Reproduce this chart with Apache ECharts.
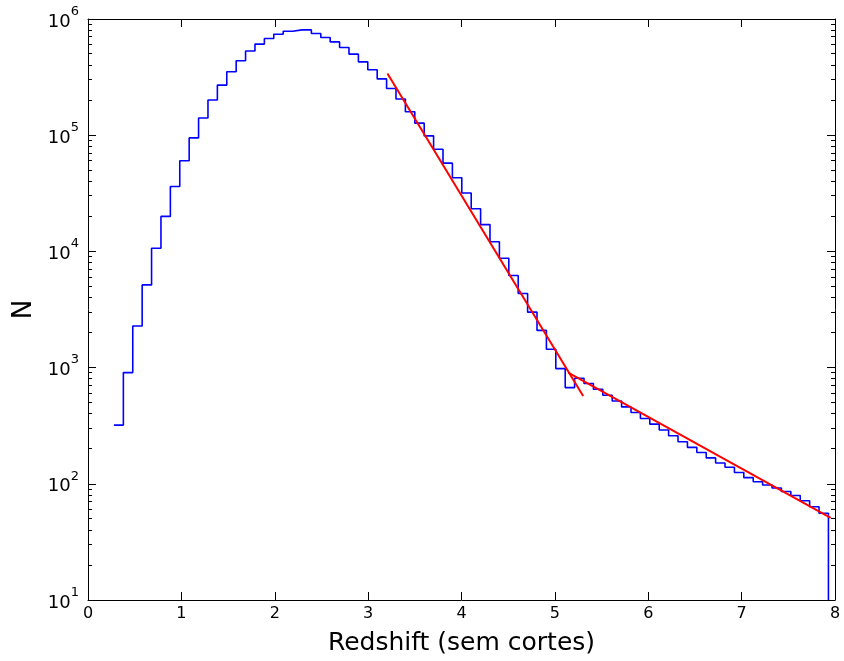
<!DOCTYPE html>
<html>
<head>
<meta charset="utf-8">
<title>Redshift (sem cortes)</title>
<script src="https://cdn.jsdelivr.net/npm/echarts@6/dist/echarts.min.js"></script>
<style>
  html, body { margin: 0; padding: 0; background: #ffffff; }
  #chart { width: 844px; height: 661px; }
</style>
</head>
<body>
<div id="chart"></div>
<script>
// Histogram binning (left edge of first bin, common bin width)
const binStart = 0.278;
const binWidth = 0.10068;

// Counts per bin, from z ~ 0.3 up to z ~ 7.9
const counts = [
  320, 906, 2280, 5150, 10640, 20000, 36200, 60200, 94800, 140800,
  201000, 270000, 352000, 437000, 530000, 608000, 680000, 740000, 785000, 806000,
  806000, 751000, 693000, 635000, 569000, 499000, 428000, 366000, 305000, 252000,
  205000, 159000, 127000, 98600, 75800, 57500, 43000, 31800, 23300, 17000,
  12100, 8730, 6200, 4340, 3000, 2090, 1440, 980, 673, 809,
  730, 652, 578, 516, 459, 411, 365, 326, 290, 259,
  230, 206, 186, 167, 151, 139, 125, 113, 104, 97.7,
  92, 85.9, 79.4, 71.5, 63.4, 55.8
];

// Exponential fits (straight lines in log space), given by their end points
const steepFit = [[3.207, 340000], [5.303, 570]];
const shallowFit = [[5.143, 906], [7.954, 50.8]];

// Axis ranges and ticks
const xMin = 0, xMax = 8, xStep = 1;
const yMin = 10, yMax = 1e6;
const yMinorTicks = [];
for (let d = 10; d < yMax; d *= 10) {
  for (let m = 2; m <= 9; m++) yMinorTicks.push(m * d);
}

// Step outline of the histogram
const histPath = [];
counts.forEach((c, k) => {
  const left = binStart + k * binWidth;
  histPath.push([left, c], [left + binWidth, c]);
});
histPath.push([binStart + counts.length * binWidth, yMin]);

const FONT = 'DejaVu Sans';
const frameLine = { show: true, onZero: false, lineStyle: { color: '#000', width: 1 } };

function xAxisDef(pos, withLabels) {
  return {
    type: 'value', position: pos, min: xMin, max: xMax, interval: xStep,
    axisLine: frameLine,
    axisTick: { show: true, inside: true, length: 8, lineStyle: { color: '#000', width: 1 } },
    axisLabel: withLabels
      ? { show: true, color: '#000', fontSize: 16, fontFamily: FONT, margin: 6 }
      : { show: false },
    splitLine: { show: false },
    name: withLabels ? 'Redshift (sem cortes)' : '',
    nameLocation: 'middle', nameGap: 31,
    nameTextStyle: { color: '#000', fontSize: 25, fontFamily: FONT }
  };
}

function yAxisDef(pos, withLabels) {
  const axis = {
    type: 'log', logBase: 10, position: pos, min: yMin, max: yMax,
    axisLine: frameLine,
    axisTick: { show: true, inside: true, length: 8, lineStyle: { color: '#000', width: 1 } },
    axisLabel: { show: false },
    splitLine: { show: false },
    minorTick: { show: false }
  };
  if (withLabels) {
    axis.axisLabel = {
      show: true, margin: 9, padding: [6, 0, 0, 0],
      formatter: v => '{b|10}{s|' + Math.round(Math.log10(v)) + '}',
      rich: {
        b: { fontSize: 18, fontFamily: FONT, color: '#000', lineHeight: 34 },
        s: { fontSize: 13, fontFamily: FONT, color: '#000', lineHeight: 13, verticalAlign: 'top' }
      }
    };
    axis.name = 'N';
    axis.nameLocation = 'middle';
    axis.nameGap = 50;
    axis.nameTextStyle = { color: '#000', fontSize: 26, fontFamily: FONT };
  }
  return axis;
}

// Short minor ticks (2..9 of every decade) on both vertical frame edges
function renderMinorTick(params, api) {
  const cs = params.coordSys;
  const y = Math.round(api.coord([xMin, api.value(1)])[1] - 0.5) + 0.5;
  const style = { stroke: '#000', lineWidth: 1 };
  return {
    type: 'group',
    children: [
      { type: 'line', shape: { x1: cs.x, y1: y, x2: cs.x + 4, y2: y }, style },
      { type: 'line', shape: { x1: cs.x + cs.width - 4, y1: y, x2: cs.x + cs.width, y2: y }, style }
    ]
  };
}

const chart = echarts.init(document.getElementById('chart'), null, { renderer: 'canvas' });
chart.setOption({
  animation: false,
  backgroundColor: '#ffffff',
  grid: { left: 88, right: 9, top: 19, bottom: 60, containLabel: false },
  xAxis: [xAxisDef('bottom', true), xAxisDef('top', false)],
  yAxis: [yAxisDef('left', true), yAxisDef('right', false)],
  series: [
    {
      type: 'custom', name: 'minor ticks', xAxisIndex: 0, yAxisIndex: 0,
      data: yMinorTicks.map(v => [xMin, v]),
      renderItem: renderMinorTick, silent: true, clip: false
    },
    {
      type: 'line', name: 'N(z)', data: histPath, xAxisIndex: 0, yAxisIndex: 0,
      symbol: 'none', clip: true,
      lineStyle: { color: '#0000ff', width: 1.6 }
    },
    {
      type: 'line', name: 'ajuste 1', data: steepFit, xAxisIndex: 0, yAxisIndex: 0,
      symbol: 'none', lineStyle: { color: '#ff0000', width: 2 }
    },
    {
      type: 'line', name: 'ajuste 2', data: shallowFit, xAxisIndex: 0, yAxisIndex: 0,
      symbol: 'none', lineStyle: { color: '#ff0000', width: 2 }
    }
  ]
});
</script>
</body>
</html>
